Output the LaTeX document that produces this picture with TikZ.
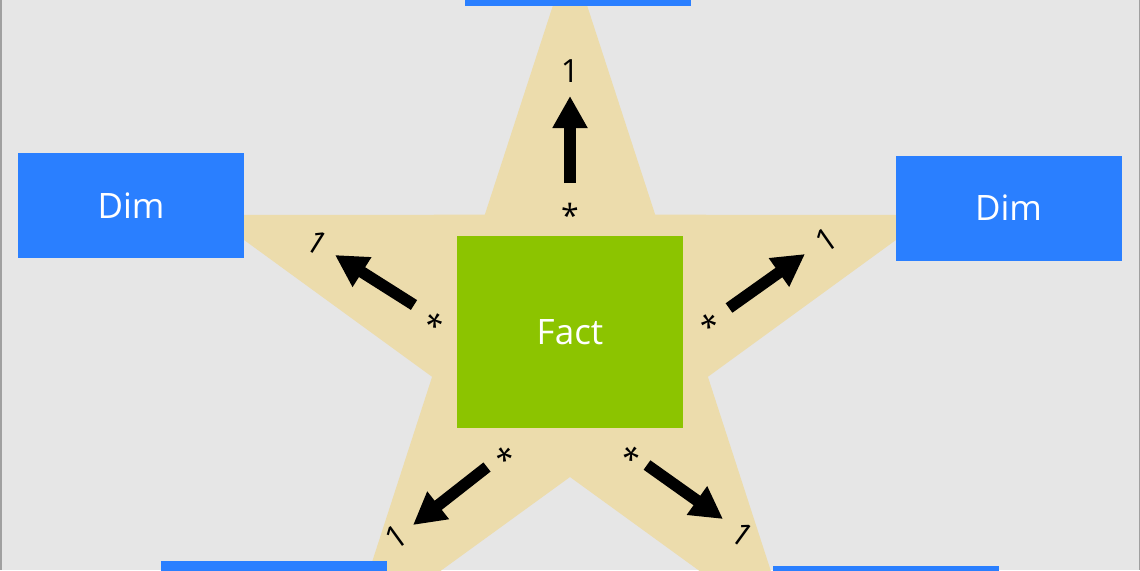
\documentclass[tikz,border=0pt]{standalone}
\usepackage{fontspec}
\setmainfont{Open Sans}
\usetikzlibrary{arrows.meta}
\definecolor{bg}{HTML}{E6E6E6}
\definecolor{starc}{HTML}{ECDCAC}
\definecolor{dimc}{HTML}{2A7FFF}
\definecolor{factc}{HTML}{8CC400}
\definecolor{edgec}{HTML}{A0A0A0}
\tikzset{
  dimbox/.style={fill=dimc, draw=none, minimum width=113pt, minimum height=52.5pt, inner sep=0pt, text=white, font=\fontsize{17.5}{20}\selectfont},
  factbox/.style={fill=factc, draw=none, minimum width=113pt, minimum height=96pt, inner sep=0pt, text=white, font=\fontsize{17.5}{20}\selectfont},
  bigarrow/.style={line width=5.8pt, -{Triangle[length=16pt,width=16.5pt]}},
  lbl/.style={font=\fontsize{16}{18}\selectfont, inner sep=0pt},
}
\begin{document}
\begin{tikzpicture}[x=0.5pt,y=-0.5pt]
\useasboundingbox (0,0) rectangle (1140,570);
\fill[bg] (0,0) rectangle (1140,570);
\draw[edgec, line width=1pt] (0.5,0) -- (0.5,570);
\draw[edgec, line width=1pt] (1139.5,0) -- (1139.5,570);
% star
\fill[starc]
  (570,-47) -- (484.8,214.7) -- (209.6,214.9) -- (432.1,376.8) -- (347.2,638.6)
  -- (570,477) -- (792.8,638.6) -- (707.9,376.8) -- (930.4,214.9) -- (655.2,214.7) -- cycle;
% boxes
\node[dimbox] (top) at (578,-46.5) {};
\node[dimbox] (left) at (131,205.5) {Dim};
\node[dimbox] (right) at (1008.5,208) {Dim};
\node[dimbox] (bl) at (273.5,613.5) {};
\node[dimbox] (br) at (885.5,618.5) {};
\node[factbox] (fact) at (570,332) {Fact};
% arrows
\coordinate (t0) at (570,183); \coordinate (t1) at (570,96);
\coordinate (l0) at (414,305); \coordinate (l1) at (335,255);
\coordinate (r0) at (729,308); \coordinate (r1) at (805,254);
\coordinate (bl0) at (487,467); \coordinate (bl1) at (413,525);
\coordinate (br0) at (647,465); \coordinate (br1) at (723,519);
\draw[bigarrow] (t0) -- (t1);
\draw[bigarrow] (l0) -- (l1);
\draw[bigarrow] (r0) -- (r1);
\draw[bigarrow] (bl0) -- (bl1);
\draw[bigarrow] (br0) -- (br1);
% labels
\node[lbl] (lt1) at (570,71) {1};
\node[lbl] (lts) at (570,215) {*};
\node[lbl, rotate=-32] (ll1) at (317,243) {1};
\node[lbl, rotate=-32] (lls) at (432,325) {*};
\node[lbl, rotate=35] (lr1) at (826,240) {1};
\node[lbl, rotate=35] (lrs) at (712,325) {*};
\node[lbl, rotate=36] (lbl1) at (396,537) {1};
\node[lbl, rotate=36] (lbls) at (507,458) {*};
\node[lbl, rotate=-36] (lbr1) at (743,535) {1};
\node[lbl, rotate=-36] (lbrs) at (629,458) {*};
\end{tikzpicture}
\end{document}
